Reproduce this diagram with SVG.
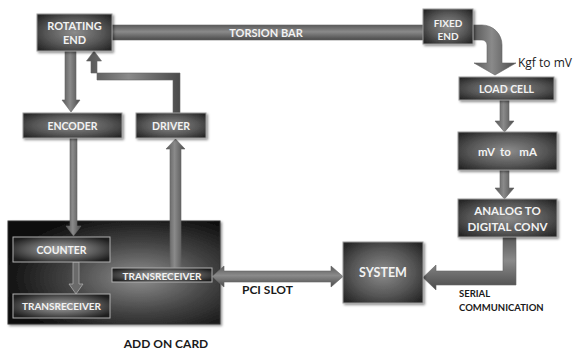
<svg xmlns="http://www.w3.org/2000/svg" width="577" height="349" viewBox="0 0 577 349">
<defs>
<radialGradient id="box" cx="50%" cy="50%" r="65%">
<stop offset="0" stop-color="#8c8c8c"/>
<stop offset="0.6" stop-color="#555"/>
<stop offset="1" stop-color="#262626"/>
</radialGradient>
<radialGradient id="inner" cx="50%" cy="50%" r="60%">
<stop offset="0" stop-color="#a8a8a8"/>
<stop offset="0.6" stop-color="#5a5a5a"/>
<stop offset="1" stop-color="#1e1e1e"/>
</radialGradient>
<radialGradient id="card" cx="62%" cy="55%" r="65%">
<stop offset="0" stop-color="#8f8f8f"/>
<stop offset="0.55" stop-color="#404040"/>
<stop offset="1" stop-color="#0d0d0d"/>
</radialGradient>
<linearGradient id="hbar" x1="0" y1="0" x2="0" y2="1">
<stop offset="0" stop-color="#5a5a5a"/>
<stop offset="0.45" stop-color="#8a8a8a"/>
<stop offset="1" stop-color="#4a4a4a"/>
</linearGradient>
<linearGradient id="vbar" x1="0" y1="0" x2="1" y2="0">
<stop offset="0" stop-color="#555"/>
<stop offset="0.45" stop-color="#8a8a8a"/>
<stop offset="1" stop-color="#4a4a4a"/>
</linearGradient>
<filter id="sh" x="-10%" y="-10%" width="130%" height="130%">
<feDropShadow dx="1.5" dy="1.5" stdDeviation="1.2" flood-color="#000" flood-opacity="0.45"/>
</filter>
</defs>
<style>
.node rect{fill:url(#box);stroke:#9a9a9a;stroke-width:1;filter:url(#sh)}
.in rect{fill:url(#inner);stroke:#b0b0b0;stroke-width:1}
.t{font-family:Lato,"Liberation Sans",sans-serif;font-weight:bold;fill:#f2f2f2;text-anchor:middle;dominant-baseline:central}
.lbl{font-family:Lato,"Liberation Sans",sans-serif;font-weight:bold;fill:#1a1a1a}
.v{fill:url(#vbar);stroke:#666;stroke-width:0.6}
.h{fill:url(#hbar);stroke:#666;stroke-width:0.6}
</style>
<rect width="577" height="349" fill="#fff"/>

<g id="add-on-card">
<rect x="8" y="221" width="212" height="103" fill="url(#card)" stroke="#333" stroke-width="1" filter="url(#sh)"/>
<text x="166" y="343" class="lbl" font-size="12" text-anchor="middle" dominant-baseline="central">ADD ON CARD</text>
</g>

<g id="torsion-bar">
<rect x="110" y="25" width="316" height="15" class="h"/>
<text x="266" y="32.5" class="t" font-size="11">TORSION BAR</text>
</g>

<g id="connectors">
<path class="v" d="M65,51 H76 V100 H80 L71,112 L62,100 H65 Z"/>
<path class="v" d="M70,138 H77 V226 H81 L73.5,236 L66,226 H70 Z"/>
<path class="v" d="M170,268 V149 H166 L175.5,139 L185,149 H181 V268 Z"/>
<path class="v" d="M173,113 V80 H97 V61 H101.5 L94,51 L86.5,61 H91 V73 H180 V113 Z"/>
<path class="v" d="M472,25 H482 A20,20 0 0 1 502,45 V63 H516 L495,75 L474,63 H487 V45 A5,5 0 0 0 482,40 H472 Z"/>
<path class="v" d="M500,100 H509 V121 H514 L504.5,132 L495,121 H500 Z"/>
<path class="v" d="M500,170 H509 V188 H514 L504.5,199 L495,188 H500 Z"/>
<path class="h" d="M503,237 H516 V285 H436 V290 L423,277.5 L436,265 V271 H503 Z"/>
<path class="h" d="M212,276.5 L224,266 V271 H331 V266 L343,276.5 L331,287 V282 H224 V287 Z"/>
<path d="M73,262 H79 V284 H83 L76,294 L69,284 H73 Z" fill="#6a6a6a" stroke="#aaa" stroke-width="0.8"/>
</g>

<g id="rotating-end" class="node">
<rect x="37" y="14" width="75" height="37"/>
<text x="74.5" y="25.5" class="t" font-size="11">ROTATING</text>
<text x="74.5" y="39.5" class="t" font-size="11">END</text>
</g>

<g id="fixed-end" class="node">
<rect x="423" y="9" width="50" height="35"/>
<text x="448" y="22.5" class="t" font-size="10">FIXED</text>
<text x="448" y="35.5" class="t" font-size="10">END</text>
</g>

<text x="518" y="67" font-family="'Open Sans','Liberation Sans',sans-serif" font-size="12" fill="#1a1a1a">Kgf to mV</text>

<g id="load-cell" class="node">
<rect x="459" y="77" width="95" height="23"/>
<text x="506.5" y="88.5" class="t" font-size="10.5">LOAD CELL</text>
</g>

<g id="mv-to-ma" class="node">
<rect x="458" y="132" width="99" height="38"/>
<text x="507.5" y="151.5" class="t" font-size="11.5" xml:space="preserve">mV  to   mA</text>
</g>

<g id="adc" class="node">
<rect x="458" y="199" width="99" height="38"/>
<text x="507.5" y="210.5" class="t" font-size="11.5">ANALOG TO</text>
<text x="507.5" y="226" class="t" font-size="11.5">DIGITAL CONV</text>
</g>

<g id="encoder" class="node">
<rect x="23" y="113" width="99" height="25"/>
<text x="72.5" y="125.5" class="t" font-size="10.5">ENCODER</text>
</g>

<g id="driver" class="node">
<rect x="136" y="113" width="70" height="25"/>
<text x="171" y="125.5" class="t" font-size="10.5">DRIVER</text>
</g>

<g id="system" class="node">
<rect x="343" y="242" width="80" height="61"/>
<text x="383" y="272" class="t" font-size="12.5">SYSTEM</text>
</g>

<g id="counter" class="in">
<rect x="13" y="237" width="97" height="25"/>
<text x="61.5" y="249.5" class="t" font-size="10.5">COUNTER</text>
</g>

<g id="transreceiver-lower" class="in">
<rect x="13" y="294" width="97" height="24"/>
<text x="61.5" y="306" class="t" font-size="10">TRANSRECEIVER</text>
</g>

<g id="transreceiver-right" class="in">
<rect x="112" y="268" width="100" height="14"/>
<text x="162" y="275.5" class="t" font-size="10">TRANSRECEIVER</text>
</g>

<text x="242" y="289" class="lbl" font-size="12" dominant-baseline="central">PCI SLOT</text>
<text x="459" y="293" class="lbl" font-size="9.5" dominant-baseline="central">SERIAL</text>
<text x="459" y="307" class="lbl" font-size="9.5" dominant-baseline="central">COMMUNICATION</text>
</svg>
